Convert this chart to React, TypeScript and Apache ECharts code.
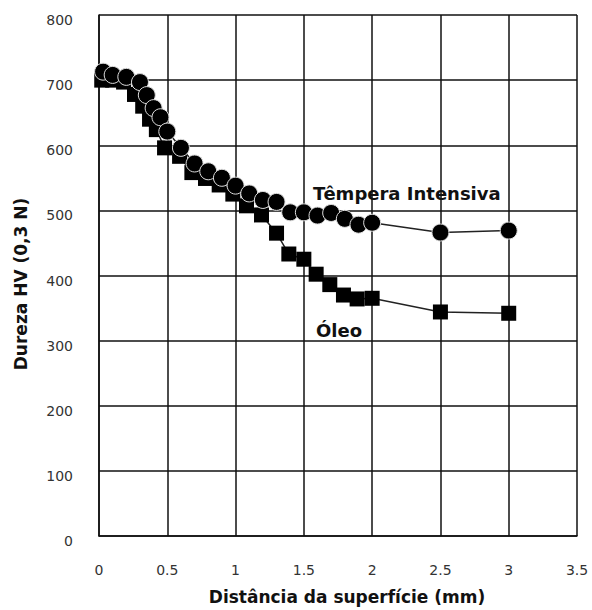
import React, { useEffect, useRef } from "react";
import * as echarts from "echarts";

const xTicks = [0, 0.5, 1, 1.5, 2, 2.5, 3, 3.5];
const yTicks = [0, 100, 200, 300, 400, 500, 600, 700, 800];

const intensivaX = [0.03, 0.1, 0.2, 0.3, 0.35, 0.4, 0.45, 0.5, 0.6, 0.7, 0.8, 0.9, 1.0, 1.1, 1.2, 1.3, 1.4, 1.5, 1.6, 1.7, 1.8, 1.9, 2.0, 2.5, 3.0];
const intensivaY = [713, 708, 705, 697, 677, 657, 643, 621, 596, 572, 560, 550, 538, 526, 516, 513, 497, 497, 492, 496, 487, 478, 481, 466, 469];

const oleoX = [0.02, 0.1, 0.18, 0.26, 0.32, 0.37, 0.42, 0.48, 0.59, 0.68, 0.78, 0.88, 0.98, 1.08, 1.19, 1.3, 1.39, 1.5, 1.59, 1.69, 1.79, 1.89, 2.0, 2.5, 3.0];
const oleoY = [700, 700, 697, 678, 660, 640, 624, 596, 583, 558, 549, 539, 525, 507, 493, 465, 433, 425, 402, 386, 370, 364, 365, 344, 342];

const seriesNames = ["Têmpera Intensiva", "Óleo"];

export default function App() {
  const ref = useRef<HTMLDivElement>(null);
  useEffect(() => {
    if (!ref.current) return;
    const chart = echarts.init(ref.current, null, { renderer: "svg" });
    const labelFont = {
      fontFamily: "DejaVu Sans",
      fontSize: 14,
      color: "#333",
    };
    chart.setOption({
      animation: false,
      backgroundColor: "#fff",
      grid: { left: 99, right: 15, top: 15, bottom: 74 },
      xAxis: {
        type: "value",
        min: 0,
        max: 3.5,
        interval: 0.5,
        axisLine: { show: true, lineStyle: { color: "#111", width: 1.5 } },
        axisTick: { show: false },
        splitLine: { show: true, lineStyle: { color: "#111", width: 1.5 } },
        axisLabel: {
          ...labelFont,
          margin: 27,
          formatter: (v: number) => (xTicks.includes(v) ? String(v) : ""),
        },
      },
      yAxis: {
        type: "value",
        min: 0,
        max: 800,
        interval: 100,
        axisLine: { show: true, lineStyle: { color: "#111", width: 1.5 } },
        axisTick: { show: false },
        splitLine: { show: true, lineStyle: { color: "#111", width: 1.5 } },
        axisLabel: {
          ...labelFont,
          margin: 26,
          verticalAlign: "top",
          lineHeight: 10,
          formatter: (v: number) => (yTicks.includes(v) ? String(v) : ""),
        },
      },
      series: [
        {
          name: seriesNames[1],
          type: "line",
          data: oleoX.map((x, i) => [x, oleoY[i]]),
          symbol: "rect",
          symbolSize: 15,
          lineStyle: { color: "#222", width: 1.5 },
          itemStyle: { color: "#000" },
          z: 2,
        },
        {
          name: seriesNames[0],
          type: "line",
          data: intensivaX.map((x, i) => [x, intensivaY[i]]),
          symbol: "circle",
          symbolSize: 17,
          lineStyle: { color: "#222", width: 1.5 },
          itemStyle: { color: "#000", borderColor: "#ddd", borderWidth: 1 },
          z: 3,
        },
      ],
      graphic: [
        {
          type: "text",
          x: 313,
          y: 193,
          style: { text: seriesNames[0], font: "bold 18px 'DejaVu Sans'", fill: "#111", verticalAlign: "middle" },
          z: 10,
        },
        {
          type: "text",
          x: 316,
          y: 330,
          style: { text: seriesNames[1], font: "bold 18px 'DejaVu Sans'", fill: "#111", verticalAlign: "middle" },
          z: 10,
        },
        {
          type: "text",
          x: 347,
          y: 597,
          style: {
            text: "Distância da superfície (mm)",
            font: "bold 17px 'DejaVu Sans'",
            fill: "#111",
            align: "center",
            verticalAlign: "middle",
          },
        },
        {
          type: "text",
          x: 21,
          y: 284,
          rotation: Math.PI / 2,
          style: {
            text: "Dureza HV (0,3 N)",
            font: "bold 17px 'DejaVu Sans'",
            fill: "#111",
            align: "center",
            verticalAlign: "middle",
          },
        },
      ],
    });
    return () => chart.dispose();
  }, []);
  return (
    <div
      ref={ref}
      style={{ position: "absolute", left: 0, top: 0, width: 592, height: 610 }}
    />
  );
}
